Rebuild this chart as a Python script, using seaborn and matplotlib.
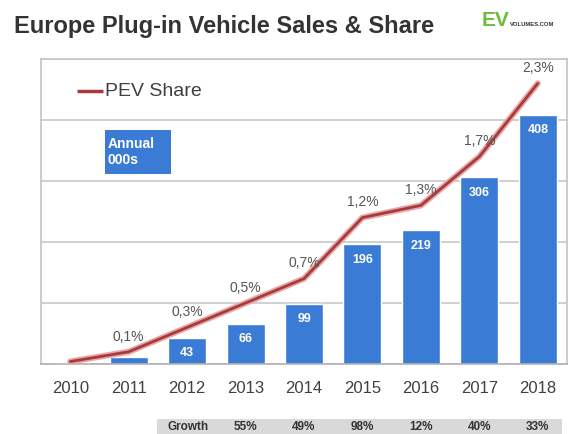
import numpy as np
import pandas as pd
import matplotlib
matplotlib.use("Agg")
import matplotlib.pyplot as plt
from matplotlib.patches import Rectangle
import seaborn as sns

# --- data -------------------------------------------------------------
years = ["2010", "2011", "2012", "2013", "2014", "2015", "2016", "2017", "2018"]
sales_k = [1, 12, 43, 66, 99, 196, 219, 306, 408]          # annual sales, thousands
share_pct = [0.02, 0.1, 0.3, 0.5, 0.7, 1.2, 1.3, 1.7, 2.3]  # PEV market share, %
share_labels = ["", "0,1%", "0,3%", "0,5%", "0,7%", "1,2%", "1,3%", "1,7%", "2,3%"]
sales_labels = ["", "", "43", "66", "99", "196", "219", "306", "408"]
growth_years = ["2013", "2014", "2015", "2016", "2017", "2018"]
growth_labels = ["55%", "49%", "98%", "12%", "40%", "33%"]

BAR = "#3A7BD5"
LINE = "#A83A3C"
GREY_TXT = "#404040"

sns.set_style("white")
plt.rcParams["font.family"] = ["Liberation Sans", "DejaVu Sans"]

W, H = 586, 434
fig = plt.figure(figsize=(W / 100, H / 100), dpi=100)
fig.patch.set_facecolor("white")

# plot frame in pixel units
left, right, top, bottom = 41, 567, 59, 364
slot = (right - left) / len(years)
ax = fig.add_axes([left / W, 1 - bottom / H, (right - left) / W, (bottom - top) / H])

df = pd.DataFrame({"year": years, "sales": sales_k, "share": share_pct})

sns.barplot(data=df, x="year", y="sales", color=BAR, saturation=1, width=0.65,
            ax=ax, zorder=2)
ax.set_xlim(-0.5, 8.5)
ax.set_ylim(0, 500)
ax.set_yticks(np.arange(0, 501, 100))
ax.set_yticklabels([])
ax.set_xlabel("")
ax.set_ylabel("")
ax.grid(axis="y", color="#c4c4c4", linewidth=1.1, zorder=0)
ax.set_axisbelow(True)
for s in ax.spines.values():
    s.set_color("#c4c4c4")
    s.set_linewidth(1.2)
ax.spines["bottom"].set_color("#b0b0b0")
ax.tick_params(axis="y", length=0)
ax.tick_params(axis="x", length=0, pad=12, labelsize=12, labelcolor=GREY_TXT)
ax.set_xticks(range(len(years)), years)
ax.set_xticks(np.arange(-0.5, 9, 1), minor=True)
ax.tick_params(axis="x", which="minor", length=3, color="#b0b0b0", direction="out")

# value labels inside the bars
for i, (v, lab) in enumerate(zip(sales_k, sales_labels)):
    if lab:
        ax.annotate(lab, (i, v), xytext=(0, -11), textcoords="offset points",
                    ha="center", va="center", color="white", fontsize=9,
                    fontweight="bold", zorder=4)

# market share line on a secondary scale
ax2 = ax.twinx()
ax2.set_ylim(0, 2.5)
ax2.set_xlim(-0.5, 8.5)
ax2.set_yticks([])
for s in ax2.spines.values():
    s.set_visible(False)
xpos = np.arange(len(years))
sns.lineplot(x=xpos, y=share_pct, ax=ax2, color="#e8a8a8", linewidth=4.5,
             zorder=3, legend=False)
sns.lineplot(x=xpos, y=share_pct, ax=ax2, color=LINE, linewidth=2.0,
             zorder=4, legend=False)
for i, (v, lab) in enumerate(zip(share_pct, share_labels)):
    if lab:
        ax2.annotate(lab, (i, v), xytext=(0, 11), textcoords="offset points",
                     ha="center", va="center", color="#555555", fontsize=10,
                     zorder=5)

# legend entry
ax2.plot([77 / W, 103 / W], [1 - 91 / H, 1 - 91 / H], transform=fig.transFigure,
         color=LINE, linewidth=2.5, solid_capstyle="butt")
fig.text(105 / W, 1 - 92 / H, "PEV Share", fontsize=14, color=GREY_TXT,
         ha="left", va="center")

# "Annual 000s" tag
fig.patches.append(Rectangle((105 / W, 1 - 174 / H), 66 / W, 44 / H,
                             transform=fig.transFigure, facecolor=BAR,
                             edgecolor="none", zorder=5))
fig.text(108 / W, 1 - 152 / H, "Annual\n000s", fontsize=10, color="white",
         fontweight="bold", ha="left", va="center", linespacing=1.15, zorder=6)

# title and logo
fig.text(14 / W, 1 - 27 / H, "Europe Plug-in Vehicle Sales & Share",
         fontsize=17, fontweight="bold", color="#333333", ha="left", va="center")
fig.text(482 / W, 1 - 20 / H, "EV", fontsize=15, fontweight="bold",
         color="#6dbb3a", ha="left", va="center")
fig.text(510 / W, 1 - 25 / H, "VOLUMES.COM", fontsize=4.2, fontweight="bold",
         color="#333333", ha="left", va="center")

# growth row
fig.patches.append(Rectangle((157 / W, 0), (562 - 157) / W, 15 / H,
                             transform=fig.transFigure, facecolor="#d9d9d9",
                             edgecolor="none", zorder=1))
row_y = 1 - 427 / H
fig.text(188 / W, row_y, "Growth", fontsize=8.5, fontweight="bold",
         color="#333333", ha="center", va="center", zorder=2)
for yr, g in zip(growth_years, growth_labels):
    xc = left + (years.index(yr) + 0.5) * slot
    fig.text(xc / W, row_y, g, fontsize=8.5, fontweight="bold",
             color="#333333", ha="center", va="center", zorder=2)

fig.savefig("out.png", dpi=100)
